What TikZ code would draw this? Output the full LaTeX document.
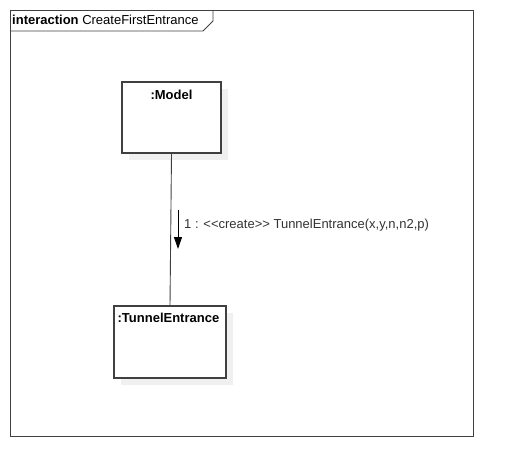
\documentclass[tikz,border=0pt]{standalone}
\usepackage{fontspec}
\setmainfont{Liberation Sans}
\usepackage{tikz}
\usetikzlibrary{arrows.meta}
\definecolor{framegray}{RGB}{64,64,64}
\definecolor{shadowgray}{RGB}{240,240,240}
\definecolor{textgray}{RGB}{51,51,51}

\begin{document}
\begin{tikzpicture}[x=1pt, y=-1pt,
    lifebox/.style={draw=framegray, line width=1.1pt, fill=white, inner sep=0pt},
    boxtitle/.style={font=\fontsize{13}{15}\selectfont\bfseries, inner sep=0pt}]
                \useasboundingbox (0,0) rectangle (514,476);
                % frame
                \draw[framegray, line width=0.9pt] (10,10) rectangle (473,436);
                \draw[framegray, line width=0.9pt] (10,31) -- (203,31) -- (213,21) -- (213,10);
                \node[anchor=base west, inner sep=0pt, font=\fontsize{13}{15}\selectfont] (title) at (12,25) {\textbf{interaction} CreateFirstEntrance};
                % shadows
                \fill[shadowgray] (129,89) rectangle (228,160);
                \fill[shadowgray] (121,313) rectangle (233,385);
                % lifelines
                \node[lifebox, minimum width=99pt, minimum height=71pt] (model) at (171.5,117.5) {};
                \node[boxtitle, anchor=north] (modeltxt) at ([yshift=-8pt]model.north) {:Model};
                \node[lifebox, minimum width=112pt, minimum height=72pt] (tunnel) at (170,342) {};
                \node[boxtitle, anchor=north west] (tunneltxt) at ([xshift=4pt, yshift=-7pt]tunnel.north west) {:TunnelEntrance};
                \draw[framegray, line width=0.9pt] (model.south) -- (tunnel.north);
                % message
                \coordinate (m1) at (178,210);
                \coordinate (m2) at (178,249);
                \draw[black, line width=1pt, -{Triangle[length=12pt, width=8pt]}] (m1) -- (m2);
                \node[anchor=base west, inner sep=0pt, text=textgray, font=\fontsize{13}{15}\selectfont] (msg) at (184,228) {1 : <\kern0pt<create>\kern0pt> TunnelEntrance(x,y,n,n2,p)};
            \end{tikzpicture}
\end{document}
